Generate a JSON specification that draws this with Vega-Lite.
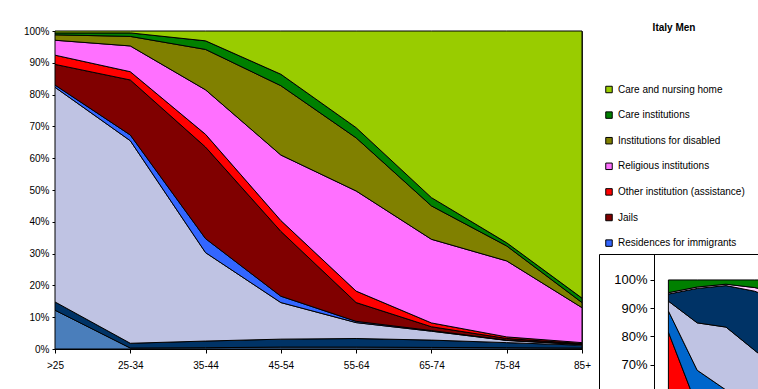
{
  "$schema": "https://vega.github.io/schema/vega-lite/v6.json",
  "padding": {"left": 22, "top": 22, "right": 0, "bottom": 0},
  "config": {"font": "Liberation Sans", "view": {"stroke": null}},
  "datasets": {
    "main": [
      {"a": ">25", "t": "Educational institutions", "k": 1, "v": 12.2},
      {"a": ">25", "t": "Hospitals", "k": 2, "v": 2.6},
      {"a": ">25", "t": "Military barracks", "k": 3, "v": 67.5},
      {"a": ">25", "t": "Residences for immigrants", "k": 4, "v": 0.7},
      {"a": ">25", "t": "Jails", "k": 5, "v": 6.5},
      {"a": ">25", "t": "Other institution (assistance)", "k": 6, "v": 2.9},
      {"a": ">25", "t": "Religious institutions", "k": 7, "v": 4.7},
      {"a": ">25", "t": "Institutions for disabled", "k": 8, "v": 1.7},
      {"a": ">25", "t": "Care institutions", "k": 9, "v": 0.6},
      {"a": ">25", "t": "Care and nursing home", "k": 10, "v": 0.6},
      {"a": "25-34", "t": "Educational institutions", "k": 1, "v": 0.3},
      {"a": "25-34", "t": "Hospitals", "k": 2, "v": 1.5},
      {"a": "25-34", "t": "Military barracks", "k": 3, "v": 63.7},
      {"a": "25-34", "t": "Residences for immigrants", "k": 4, "v": 1.8},
      {"a": "25-34", "t": "Jails", "k": 5, "v": 17.3},
      {"a": "25-34", "t": "Other institution (assistance)", "k": 6, "v": 2.6},
      {"a": "25-34", "t": "Religious institutions", "k": 7, "v": 8.1},
      {"a": "25-34", "t": "Institutions for disabled", "k": 8, "v": 3.0},
      {"a": "25-34", "t": "Care institutions", "k": 9, "v": 1.1},
      {"a": "25-34", "t": "Care and nursing home", "k": 10, "v": 0.6},
      {"a": "35-44", "t": "Educational institutions", "k": 1, "v": 0.4},
      {"a": "35-44", "t": "Hospitals", "k": 2, "v": 2.1},
      {"a": "35-44", "t": "Military barracks", "k": 3, "v": 27.8},
      {"a": "35-44", "t": "Residences for immigrants", "k": 4, "v": 4.4},
      {"a": "35-44", "t": "Jails", "k": 5, "v": 28.8},
      {"a": "35-44", "t": "Other institution (assistance)", "k": 6, "v": 4.0},
      {"a": "35-44", "t": "Religious institutions", "k": 7, "v": 14.0},
      {"a": "35-44", "t": "Institutions for disabled", "k": 8, "v": 12.7},
      {"a": "35-44", "t": "Care institutions", "k": 9, "v": 2.7},
      {"a": "35-44", "t": "Care and nursing home", "k": 10, "v": 3.1},
      {"a": "45-54", "t": "Educational institutions", "k": 1, "v": 0.6},
      {"a": "45-54", "t": "Hospitals", "k": 2, "v": 2.5},
      {"a": "45-54", "t": "Military barracks", "k": 3, "v": 11.5},
      {"a": "45-54", "t": "Residences for immigrants", "k": 4, "v": 2.0},
      {"a": "45-54", "t": "Jails", "k": 5, "v": 20.4},
      {"a": "45-54", "t": "Other institution (assistance)", "k": 6, "v": 3.4},
      {"a": "45-54", "t": "Religious institutions", "k": 7, "v": 20.6},
      {"a": "45-54", "t": "Institutions for disabled", "k": 8, "v": 21.8},
      {"a": "45-54", "t": "Care institutions", "k": 9, "v": 3.6},
      {"a": "45-54", "t": "Care and nursing home", "k": 10, "v": 13.6},
      {"a": "55-64", "t": "Educational institutions", "k": 1, "v": 0.6},
      {"a": "55-64", "t": "Hospitals", "k": 2, "v": 2.7},
      {"a": "55-64", "t": "Military barracks", "k": 3, "v": 5.0},
      {"a": "55-64", "t": "Residences for immigrants", "k": 4, "v": 0.4},
      {"a": "55-64", "t": "Jails", "k": 5, "v": 5.9},
      {"a": "55-64", "t": "Other institution (assistance)", "k": 6, "v": 3.6},
      {"a": "55-64", "t": "Religious institutions", "k": 7, "v": 31.5},
      {"a": "55-64", "t": "Institutions for disabled", "k": 8, "v": 16.7},
      {"a": "55-64", "t": "Care institutions", "k": 9, "v": 3.2},
      {"a": "55-64", "t": "Care and nursing home", "k": 10, "v": 30.4},
      {"a": "65-74", "t": "Educational institutions", "k": 1, "v": 0.5},
      {"a": "65-74", "t": "Hospitals", "k": 2, "v": 2.3},
      {"a": "65-74", "t": "Military barracks", "k": 3, "v": 2.8},
      {"a": "65-74", "t": "Residences for immigrants", "k": 4, "v": 0.2},
      {"a": "65-74", "t": "Jails", "k": 5, "v": 1.2},
      {"a": "65-74", "t": "Other institution (assistance)", "k": 6, "v": 1.2},
      {"a": "65-74", "t": "Religious institutions", "k": 7, "v": 26.3},
      {"a": "65-74", "t": "Institutions for disabled", "k": 8, "v": 10.5},
      {"a": "65-74", "t": "Care institutions", "k": 9, "v": 2.6},
      {"a": "65-74", "t": "Care and nursing home", "k": 10, "v": 52.4},
      {"a": "75-84", "t": "Educational institutions", "k": 1, "v": 0.4},
      {"a": "75-84", "t": "Hospitals", "k": 2, "v": 1.6},
      {"a": "75-84", "t": "Military barracks", "k": 3, "v": 0.7},
      {"a": "75-84", "t": "Residences for immigrants", "k": 4, "v": 0.1},
      {"a": "75-84", "t": "Jails", "k": 5, "v": 0.5},
      {"a": "75-84", "t": "Other institution (assistance)", "k": 6, "v": 0.5},
      {"a": "75-84", "t": "Religious institutions", "k": 7, "v": 23.9},
      {"a": "75-84", "t": "Institutions for disabled", "k": 8, "v": 4.7},
      {"a": "75-84", "t": "Care institutions", "k": 9, "v": 1.0},
      {"a": "75-84", "t": "Care and nursing home", "k": 10, "v": 66.6},
      {"a": "85+", "t": "Educational institutions", "k": 1, "v": 0.3},
      {"a": "85+", "t": "Hospitals", "k": 2, "v": 0.9},
      {"a": "85+", "t": "Military barracks", "k": 3, "v": 0.2},
      {"a": "85+", "t": "Residences for immigrants", "k": 4, "v": 0.1},
      {"a": "85+", "t": "Jails", "k": 5, "v": 0.2},
      {"a": "85+", "t": "Other institution (assistance)", "k": 6, "v": 0.3},
      {"a": "85+", "t": "Religious institutions", "k": 7, "v": 11.0},
      {"a": "85+", "t": "Institutions for disabled", "k": 8, "v": 1.6},
      {"a": "85+", "t": "Care institutions", "k": 9, "v": 1.4},
      {"a": "85+", "t": "Care and nursing home", "k": 10, "v": 84.0}
    ],
    "inset": [
      {"a": ">25", "t": "Other", "k": 1, "v": 81.5},
      {"a": ">25", "t": "Residences", "k": 2, "v": 7.5},
      {"a": ">25", "t": "Military", "k": 3, "v": 3.5},
      {"a": ">25", "t": "Hospitals", "k": 4, "v": 2.5},
      {"a": ">25", "t": "Religious", "k": 5, "v": 0.5},
      {"a": ">25", "t": "Care", "k": 6, "v": 4.5},
      {"a": "25-34", "t": "Other", "k": 1, "v": 55},
      {"a": "25-34", "t": "Residences", "k": 2, "v": 13},
      {"a": "25-34", "t": "Military", "k": 3, "v": 16.8},
      {"a": "25-34", "t": "Hospitals", "k": 4, "v": 12.2},
      {"a": "25-34", "t": "Religious", "k": 5, "v": 0.5},
      {"a": "25-34", "t": "Care", "k": 6, "v": 2.5},
      {"a": "35-44", "t": "Other", "k": 1, "v": 45},
      {"a": "35-44", "t": "Residences", "k": 2, "v": 16},
      {"a": "35-44", "t": "Military", "k": 3, "v": 22.3},
      {"a": "35-44", "t": "Hospitals", "k": 4, "v": 14.7},
      {"a": "35-44", "t": "Religious", "k": 5, "v": 0.5},
      {"a": "35-44", "t": "Care", "k": 6, "v": 1.5},
      {"a": "45-54", "t": "Other", "k": 1, "v": 40},
      {"a": "45-54", "t": "Residences", "k": 2, "v": 17},
      {"a": "45-54", "t": "Military", "k": 3, "v": 18},
      {"a": "45-54", "t": "Hospitals", "k": 4, "v": 21},
      {"a": "45-54", "t": "Religious", "k": 5, "v": 1.3},
      {"a": "45-54", "t": "Care", "k": 6, "v": 2.7},
      {"a": "55-64", "t": "Other", "k": 1, "v": 35},
      {"a": "55-64", "t": "Residences", "k": 2, "v": 17},
      {"a": "55-64", "t": "Military", "k": 3, "v": 15},
      {"a": "55-64", "t": "Hospitals", "k": 4, "v": 25},
      {"a": "55-64", "t": "Religious", "k": 5, "v": 3},
      {"a": "55-64", "t": "Care", "k": 6, "v": 5}
    ]
  },
  "resolve": {"scale": {"color": "independent", "x": "independent", "y": "independent"}},
  "bounds": "flush",
  "spacing": 17,
  "hconcat": [
    {
      "width": 527,
      "height": 318,
      "view": {"stroke": "#333333", "strokeWidth": 1},
      "data": {"name": "main"},
      "mark": {"type": "area", "stroke": "black", "strokeWidth": 1, "interpolate": "linear"},
      "encoding": {
        "x": {
          "field": "a", "type": "ordinal",
          "sort": [">25", "25-34", "35-44", "45-54", "55-64", "65-74", "75-84", "85+"],
          "scale": {"type": "point", "padding": 0},
          "axis": {"title": null, "labelAngle": 0, "labelFontSize": 10, "labelColor": "black", "tickSize": 4, "tickColor": "black", "domainColor": "black", "labelPadding": 7, "grid": false}
        },
        "y": {
          "field": "v", "type": "quantitative", "stack": "normalize",
          "scale": {"domain": [0, 1], "nice": false},
          "axis": {"title": null, "format": ".0%", "values": [0, 0.1, 0.2, 0.3, 0.4, 0.5, 0.6, 0.7, 0.8, 0.9, 1], "labelFontSize": 10, "labelColor": "black", "tickSize": 3, "tickColor": "black", "domainColor": "black", "labelPadding": 3, "grid": false}
        },
        "order": {"field": "k", "type": "quantitative", "sort": "ascending"},
        "color": {
          "field": "t", "type": "nominal",
          "scale": {
            "domain": ["Care and nursing home", "Care institutions", "Institutions for disabled", "Religious institutions", "Other institution (assistance)", "Jails", "Residences for immigrants", "Military barracks", "Hospitals", "Educational institutions"],
            "range": ["#99CC00", "#008000", "#808000", "#FF70FF", "#FF0000", "#800000", "#3366FF", "#BFC3E3", "#003366", "#4A7EBB"]
          },
          "legend": {
            "orient": "none", "legendX": 549, "legendY": -8,
            "values": ["Care and nursing home", "Care institutions", "Institutions for disabled", "Religious institutions", "Other institution (assistance)", "Jails", "Residences for immigrants"],
            "title": "Italy Men", "titleFontSize": 10, "titleFontWeight": "bold", "titleColor": "black", "titleAnchor": "middle", "titlePadding": 51.5,
            "labelFontSize": 10, "labelColor": "black", "labelOffset": 4,
            "symbolType": "square", "symbolSize": 42, "symbolStrokeColor": "black", "symbolStrokeWidth": 1, "symbolOpacity": 1,
            "rowPadding": 13.6, "padding": 0
          }
        }
      }
    },
    {
      "bounds": "flush",
      "spacing": 20,
      "vconcat": [
        {
          "width": 160, "height": 203,
          "data": {"values": []},
          "mark": "point",
          "encoding": {}
        },
        {
          "width": 160, "height": 136,
          "view": {"stroke": "black", "strokeWidth": 1},
          "data": {"name": "inset"},
          "mark": {"type": "area", "stroke": "black", "strokeWidth": 1, "clip": true},
          "encoding": {
            "x": {
              "field": "a", "type": "ordinal",
              "sort": [">25", "25-34", "35-44", "45-54", "55-64"],
              "scale": {"type": "point", "range": [55, 199]},
              "axis": null
            },
            "y": {
              "field": "v", "type": "quantitative", "stack": "normalize",
              "scale": {"domain": [0.61, 1.092], "nice": false, "zero": false},
              "axis": {"title": null, "format": ".0%", "values": [0.7, 0.8, 0.9, 1], "offset": -55, "labelFontSize": 13, "labelColor": "black", "tickSize": 4, "tickColor": "black", "domainColor": "black", "labelPadding": 3, "grid": false}
            },
            "order": {"field": "k", "type": "quantitative", "sort": "ascending"},
            "color": {
              "field": "t", "type": "nominal",
              "scale": {
                "domain": ["Other", "Residences", "Military", "Hospitals", "Religious", "Care"],
                "range": ["#FF0000", "#0066CC", "#BFC3E3", "#003366", "#FFCCFF", "#008000"]
              },
              "legend": null
            }
          }
        }
      ]
    }
  ]
}
